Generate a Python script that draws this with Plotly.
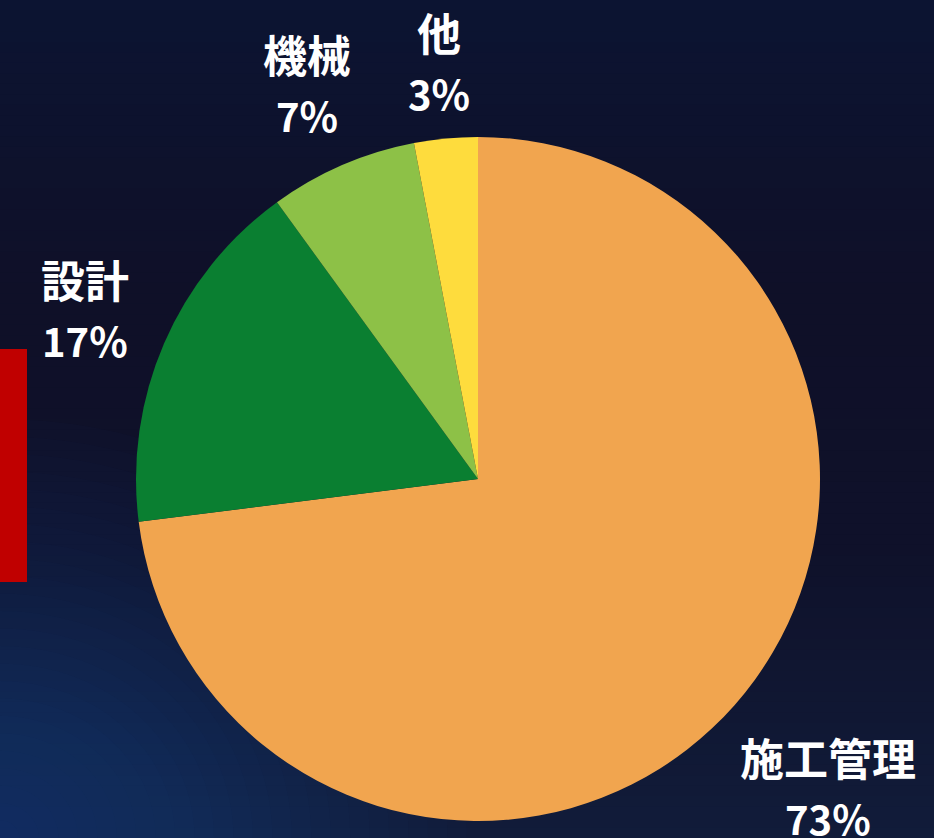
import math
import plotly.graph_objects as go

# --- data ---
labels = ["施工管理", "設計", "機械", "他"]
shares = [73, 17, 7, 3]
colors = ["#F1A54F", "#0A7F31", "#8DC147", "#FEDC3D"]

W, H = 934, 838
CX, CY, R = 478, 479, 342          # pie centre / radius in pixels
FS = 44                            # label font size
PCT_FS = 40                        # percentage font size
LINE = 61                          # distance between label line and percent line
GAP = 27                           # space between pie edge and label box
CJK_FONT = "Noto Sans CJK JP"

fig = go.Figure()

fig.add_trace(go.Pie(
    labels=labels,
    values=shares,
    sort=False,
    direction="clockwise",
    rotation=0,
    marker=dict(colors=colors, line=dict(width=0)),
    textinfo="none",
    hoverinfo="label+percent",
    showlegend=False,
    domain=dict(x=[(CX - R) / W, (CX + R) / W],
                y=[1 - (CY + R) / H, 1 - (CY - R) / H]),
))


def text_width(s, fs):
    w = 0.0
    for ch in s:
        if ord(ch) > 0x2E80:
            w += 1.0 * fs
        elif ch == "%":
            w += 0.8 * fs
        else:
            w += 0.56 * fs
    return w


# labels placed outside each slice, at the slice's mid angle
total = sum(shares)
cum = 0.0
annotations = []
for lab, v in zip(labels, shares):
    mid = (cum + v / 2) / total * 2 * math.pi
    cum += v
    ux, uy = math.sin(mid), -math.cos(mid)
    pct = f"{round(v / total * 100)}%"
    bw = max(text_width(lab, FS), text_width(pct, PCT_FS))
    bh = LINE + 0.75 * FS
    d = R + GAP + abs(ux) * bw / 2 + abs(uy) * bh / 2
    px, py = CX + ux * d, CY + uy * d
    annotations.append(dict(
        x=px / W, y=1 - (py - LINE / 2) / H, xref="paper", yref="paper",
        text=lab, showarrow=False, xanchor="center", yanchor="middle",
        font=dict(family=CJK_FONT, size=FS, color="white", weight="bold"),
    ))
    annotations.append(dict(
        x=px / W, y=1 - (py + LINE / 2) / H, xref="paper", yref="paper",
        text=pct, showarrow=False, xanchor="center", yanchor="middle",
        font=dict(family=CJK_FONT, size=PCT_FS, color="white", weight="bold"),
    ))

# night-sky background: vertical gradient strips
shapes = []
stops = [(0.0, (12, 20, 50)), (0.35, (15, 16, 40)), (0.65, (15, 17, 42)), (1.0, (17, 28, 58))]


def lerp_color(t):
    for (t0, c0), (t1, c1) in zip(stops[:-1], stops[1:]):
        if t0 <= t <= t1:
            f = (t - t0) / (t1 - t0)
            return tuple(int(round(a + (b - a) * f)) for a, b in zip(c0, c1))
    return stops[-1][1]


N = 80
for i in range(N):
    t = (i + 0.5) / N
    r, g, b = lerp_color(t)
    shapes.append(dict(type="rect", xref="paper", yref="paper",
                       x0=0, x1=1, y0=1 - (i + 1) / N - 0.002, y1=1 - i / N,
                       fillcolor=f"rgb({r},{g},{b})", line=dict(width=0), layer="below"))

# soft bluish glow at lower left
K = 24
for k in range(K):
    s = 1 - k / K
    shapes.append(dict(type="circle", xref="x domain", yref="y domain",
                       x0=-0.5 * s, x1=0.5 * s, y0=-0.5 * s, y1=0.5 * s,
                       fillcolor="rgba(45,85,155,0.025)", line=dict(width=0), layer="below"))

# red accent bar on the left edge
shapes.append(dict(type="rect", xref="paper", yref="paper",
                   x0=0, x1=27 / W, y0=1 - 582 / H, y1=1 - 349 / H,
                   fillcolor="#C00000", line=dict(width=0), layer="above"))

fig.update_layout(
    width=W, height=H, autosize=False,
    margin=dict(l=0, r=0, t=0, b=0),
    paper_bgcolor="#0f1129", plot_bgcolor="rgba(0,0,0,0)",
    xaxis=dict(visible=False, domain=[0, 1]),
    yaxis=dict(visible=False, domain=[0, 1]),
    shapes=shapes, annotations=annotations,
    font=dict(family=CJK_FONT),
)

fig.write_html("out.html")
